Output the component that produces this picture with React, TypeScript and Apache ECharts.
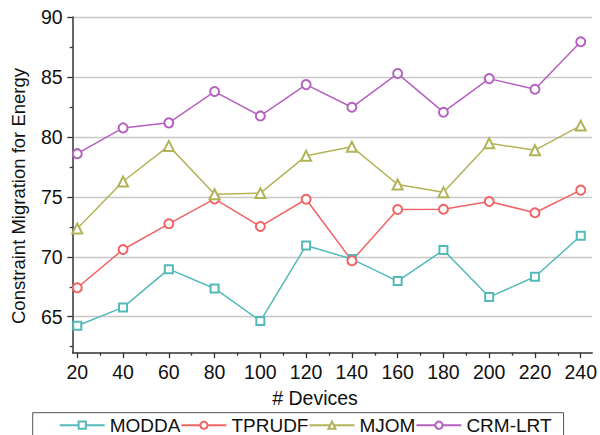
import React, { useEffect, useRef } from "react";
import * as echarts from "echarts";

const devices = [20, 40, 60, 80, 100, 120, 140, 160, 180, 200, 220, 240];
const modda = [64.25, 65.78, 68.97, 67.36, 64.64, 70.94, 69.81, 67.97, 70.56, 66.64, 68.33, 71.75];
const tprudf = [67.42, 70.61, 72.75, 74.83, 72.53, 74.8, 69.67, 73.94, 73.96, 74.61, 73.67, 75.56];
const mjom = [72.36, 76.28, 79.25, 75.22, 75.31, 78.42, 79.17, 76.03, 75.39, 79.47, 78.89, 80.94];
const crmlrt = [78.6, 80.75, 81.17, 83.78, 81.75, 84.36, 82.47, 85.28, 82.06, 84.86, 83.97, 87.94];

const xMajor = [20, 40, 60, 80, 100, 120, 140, 160, 180, 200, 220, 240];
const xMinor = [30, 50, 70, 90, 110, 130, 150, 170, 190, 210, 230];
const yMajor = [65, 70, 75, 80, 85, 90];
const yMinor = [62.5, 67.5, 72.5, 77.5, 82.5, 87.5];

const FONT = "Liberation Sans, Arial, sans-serif";

export default function App() {
  const ref = useRef<HTMLDivElement>(null);
  useEffect(() => {
    if (!ref.current) return;
    const chart = echarts.init(ref.current, null, { renderer: "svg" });
    const mk = (name: string, data: number[], color: string, symbol: string, size: number) => ({
      name,
      type: "line",
      data: devices.map((d, i) => [d, data[i]]),
      symbol,
      symbolSize: size,
      color,
      lineStyle: { color, width: 1.5 },
      itemStyle: { color, borderColor: color, borderWidth: 1.2 },
      xAxisIndex: 0,
      yAxisIndex: 0,
    });
    chart.setOption({
      animation: false,
      backgroundColor: "#ffffff",
      textStyle: { fontFamily: FONT },
      grid: { left: 72.7, top: 17, width: 522.3, height: 335.7 },
      legend: {
        left: 32.7,
        top: 412.7,
        padding: [3, 12, 12, 26],
        borderColor: "#555",
        borderWidth: 1,
        itemWidth: 45,
        itemHeight: 9,
        itemGap: 0,
        textStyle: { fontSize: 19, color: "#111", fontFamily: FONT, padding: [0, 0, 0, 0] },
        data: ["MODDA", "TPRUDF", "MJOM", "CRM-LRT"],
      },
      xAxis: [
        {
          type: "value",
          min: 18,
          max: 245,
          axisLine: { show: true, lineStyle: { color: "#333", width: 1.5 } },
          axisTick: { show: true, length: 5.5, customValues: xMajor, lineStyle: { color: "#333", width: 1.3 } },
          axisLabel: { customValues: xMajor, fontSize: 19.5, color: "#111", margin: 9, fontFamily: FONT },
          splitLine: { show: false },
        },
        {
          type: "value",
          min: 18,
          max: 245,
          position: "bottom",
          axisLine: { show: false },
          axisTick: { show: true, length: 3, customValues: xMinor, lineStyle: { color: "#333", width: 1.3 } },
          axisLabel: { show: false },
          splitLine: { show: false },
        },
      ],
      yAxis: [
        {
          type: "value",
          min: 62,
          max: 90,
          axisLine: { show: true, lineStyle: { color: "#333", width: 1.5 } },
          axisTick: { show: true, length: 5.5, customValues: yMajor, lineStyle: { color: "#333", width: 1.3 } },
          axisLabel: { customValues: yMajor, fontSize: 19.5, color: "#111", margin: 10, fontFamily: FONT },
          splitLine: { show: true, lineStyle: { color: "#c8c8c8", width: 1.3 } },
        },
        {
          type: "value",
          min: 62,
          max: 90,
          position: "left",
          axisLine: { show: false },
          axisTick: { show: true, length: 3, customValues: yMinor, lineStyle: { color: "#333", width: 1.3 } },
          axisLabel: { show: false },
          splitLine: { show: false },
        },
      ],
      graphic: [
        {
          type: "text",
          x: 315,
          y: 398,
          style: { text: "# Devices", fontSize: 19.5, fill: "#111", fontFamily: FONT, align: "center", verticalAlign: "middle" },
        },
        {
          type: "text",
          x: 18,
          y: 196,
          rotation: Math.PI / 2,
          style: { text: "Constraint Migration for Energy", fontSize: 18.5, fill: "#111", fontFamily: FONT, align: "center", verticalAlign: "middle" },
        },
      ],
      series: [
        mk("MODDA", modda, "#55b9b9", "emptyRect", 8),
        mk("TPRUDF", tprudf, "#f06465", "emptyCircle", 9),
        mk("MJOM", mjom, "#b3b35a", "emptyTriangle", 10),
        mk("CRM-LRT", crmlrt, "#b561c0", "emptyCircle", 9),
      ],
    });
    return () => chart.dispose();
  }, []);
  return <div ref={ref} style={{ width: 600, height: 435, position: "absolute", left: 0, top: 0 }} />;
}
